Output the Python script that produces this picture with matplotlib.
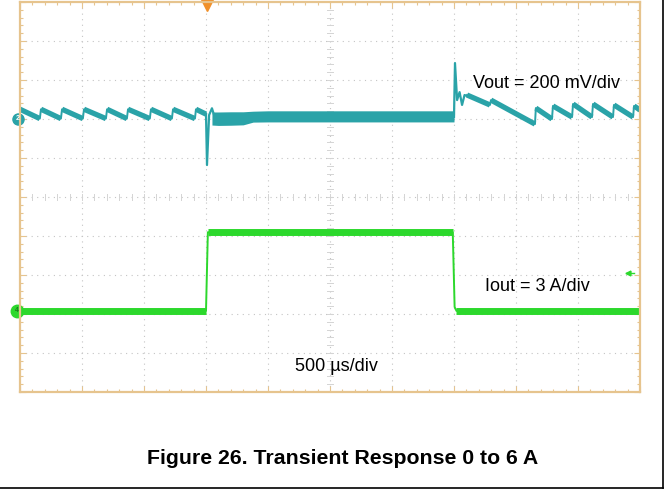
import matplotlib.pyplot as plt
from matplotlib.lines import Line2D

# scope settings
t_per_div = 500.0      # us/div
v_per_div = 200.0      # mV/div
i_per_div = 3.0        # A/div
vout_offset = 2.0      # divisions above centre
iout_offset = -2.92

# Vout (mV vs marker)
vout_pre_t = [0, 160, 169, 330, 339, 507, 516, 693, 702, 862, 871, 1047, 1056,
              1225, 1234, 1411, 1419, 1500]
vout_pre_mv = [50, 2, 50, 2, 50, 2, 50, 2, 50, 2, 50, 2, 50, 2, 50, 2, 50, 25]

spike_dn_t = [1500, 1508, 1525, 1548, 1570]
spike_dn_mv = [25, -236, 20, 55, 10]

band_t = [1548, 1600, 1700, 1800, 1880, 2000, 2500, 3000, 3500]
band_hi = [36, 36, 37, 37, 40, 42, 42, 42, 42]
band_lo = [-31, -33, -32, -30, -16, -15, -15, -15, -15]

spike_up_t = [3500, 3508, 3525, 3545, 3565, 3585, 3605]
spike_up_mv = [10, 287, 97, 138, 72, 123, 118]

vout_post_t = [3605, 3790, 3798, 4153, 4160, 4290, 4298, 4452, 4460, 4613,
               4621, 4782, 4790, 4944, 4952, 5000]
vout_post_mv = [123, 72, 97, -26, 56, 0, 67, 10, 77, 10, 77, 10, 72, 10, 67, 46]

# Iout (A)
iout_t = [0, 1500, 1515, 3490, 3505, 3520, 5000]
iout_a = [0, 0, 6.05, 6.05, 0.3, 0, 0]

teal = '#2aa3a8'
green = '#2cd82c'
tan = '#e6c48e'


def tx(t):
    return [v / t_per_div for v in t]


def vy(mv):
    return [vout_offset + v / v_per_div for v in mv]


def iy(a):
    return [iout_offset + v / i_per_div for v in a]


def trace(ax, x, y, color, thick, min_dx=0.04):
    # thin line for fast edges, thick band where the signal dwells
    ax.plot(x, y, color=color, lw=1.4)
    for i in range(len(x) - 1):
        if x[i + 1] - x[i] >= min_dx:
            ax.plot(x[i:i + 2], y[i:i + 2], color=color, lw=thick,
                    solid_capstyle='butt')


plt.rcParams['font.family'] = ['Liberation Sans', 'DejaVu Sans']
fig = plt.figure(figsize=(6.68, 5.01), dpi=100)
ax = fig.add_axes([20 / 668, 109 / 501, 620 / 668, 390 / 501])
ax.set_xlim(0, 10)
ax.set_ylim(-5, 5)

# graticule
for k in range(1, 10):
    ax.axvline(k, color='#c4c4c4', lw=0.8, ls=(0, (1, 4)), zorder=0)
for k in range(-4, 5):
    ax.axhline(k, color='#c4c4c4', lw=0.8, ls=(0, (1, 4)), zorder=0)
for k in range(1, 50):
    ax.plot([k / 5, k / 5], [-0.07, 0.07], color='#d4d4d4', lw=0.7, zorder=0)
    ax.plot([4.95, 5.05], [k / 5 - 5, k / 5 - 5], color='#d4d4d4', lw=0.7, zorder=0)

# traces
trace(ax, tx(vout_pre_t), vy(vout_pre_mv), teal, 3.8)
ax.plot(tx(spike_dn_t), vy(spike_dn_mv), color=teal, lw=1.6)
ax.fill_between(tx(band_t), vy(band_lo), vy(band_hi), color=teal, lw=0)
ax.plot(tx(spike_up_t), vy(spike_up_mv), color=teal, lw=1.6)
trace(ax, tx(vout_post_t), vy(vout_post_mv), teal, 3.8)
trace(ax, tx(iout_t), iy(iout_a), green, 5, min_dx=0.1)

# channel markers
ax.plot(-0.03, vout_offset, 'o', ms=8, color=teal, clip_on=False)
ax.text(-0.03, vout_offset, '2', color='white', fontsize=5, ha='center',
        va='center', fontweight='bold')
ax.plot(-0.05, iout_offset, 'o', ms=9, color=green, clip_on=False)
ax.text(-0.05, iout_offset, '4', color='#1a7a1a', fontsize=5, ha='center',
        va='center', fontweight='bold')
ax.plot(3.02, 4.93, 'v', ms=8, color='#f0902a', clip_on=False)
ax.plot([9.78, 9.9], [-1.95, -1.95], color=green, lw=1)
ax.plot(9.8, -1.95, '<', ms=3.5, color=green)

# frame
for s in ax.spines.values():
    s.set_color(tan)
    s.set_linewidth(1.6)
ax.set_xticks(range(0, 11))
ax.set_yticks(range(-5, 6))
ax.set_xticks([k / 5 for k in range(51)], minor=True)
ax.set_yticks([k / 5 - 5 for k in range(51)], minor=True)
ax.tick_params(which='both', direction='in', top=True, right=True,
               labelbottom=False, labelleft=False, color=tan, width=0.8)
ax.tick_params(which='major', length=4.5)
ax.tick_params(which='minor', length=2.5)

ax.text(7.31, 2.9, 'Vout = 200 mV/div', fontsize=13, va='center', ha='left')
ax.text(7.5, -2.3, 'Iout = 3 A/div', fontsize=13, va='center', ha='left')
ax.text(5.1, -4.35, '500 \u00b5s/div', fontsize=13, va='center', ha='center')

fig.text(343 / 668, 1 - 459 / 501, 'Figure 26. Transient Response 0 to 6 A',
         fontsize=15.3, fontweight='bold', ha='center', va='center')

# page border
fig.add_artist(Line2D([663 / 668, 663 / 668], [13 / 501, 1.0], color='black', lw=1.2))
fig.add_artist(Line2D([0, 663 / 668], [13 / 501, 13 / 501], color='black', lw=1.2))

fig.savefig('out.png', dpi=100)
plt.close(fig)
